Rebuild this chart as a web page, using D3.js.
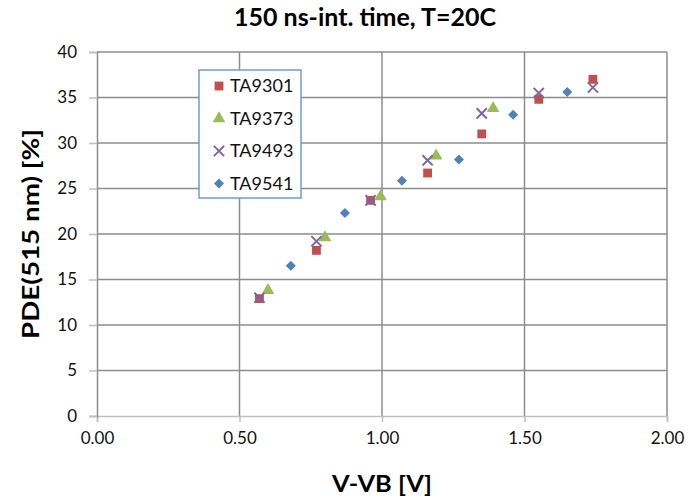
<!DOCTYPE html>
<html>
<head>
<meta charset="utf-8">
<script src="https://cdn.jsdelivr.net/npm/d3@7"></script>
<style>
  body { margin: 0; background: #fff; }
  text { font-family: Lato, "Open Sans", sans-serif; }
</style>
</head>
<body>
<svg id="drawing_region"></svg>
<script>
// data
const seriesNames = ['TA9301', 'TA9373', 'TA9493', 'TA9541'];
const xTA9301 = [0.57, 0.77, 0.96, 1.16, 1.35, 1.55, 1.74];
const yTA9301 = [12.9, 18.2, 23.7, 26.7, 31.0, 34.8, 37.0];
const xTA9373 = [0.60, 0.80, 0.995, 1.19, 1.39];
const yTA9373 = [13.8, 19.6, 24.1, 28.6, 33.8];
const xTA9493 = [0.57, 0.77, 0.96, 1.16, 1.35, 1.55, 1.74];
const yTA9493 = [13.0, 19.2, 23.7, 28.1, 33.25, 35.5, 36.1];
const xTA9541 = [0.68, 0.87, 1.07, 1.27, 1.46, 1.65];
const yTA9541 = [16.5, 22.3, 25.85, 28.2, 33.1, 35.6];
const xTicks = [0, 0.5, 1.0, 1.5, 2.0];
const yTicks = [0, 5, 10, 15, 20, 25, 30, 35, 40];

const config = {
    width: 694,
    height: 501,
    margin: { top: 52, right: 27, bottom: 85, left: 97 }
};

const series = [
    { name: seriesNames[0], xs: xTA9301, ys: yTA9301, color: '#c0504d', shape: 'square' },
    { name: seriesNames[1], xs: xTA9373, ys: yTA9373, color: '#9bbb59', shape: 'triangle' },
    { name: seriesNames[2], xs: xTA9493, ys: yTA9493, color: '#8064a2', shape: 'cross' },
    { name: seriesNames[3], xs: xTA9541, ys: yTA9541, color: '#4f81bd', shape: 'diamond' }
];

const svg = d3.select('#drawing_region')
    .attr('width', config.width)
    .attr('height', config.height);

const iw = config.width - config.margin.left - config.margin.right;
const ih = config.height - config.margin.top - config.margin.bottom;

const chart = svg.append('g')
    .attr('transform', `translate(${config.margin.left}, ${config.margin.top})`);

const xScale = d3.scaleLinear().domain([0, 2]).range([0, iw]);
const yScale = d3.scaleLinear().domain([0, 40]).range([ih, 0]);

// gridlines
chart.append('g')
    .selectAll('line.hgrid')
    .data(yTicks.filter(d => d > 0))
    .enter()
    .append('line')
    .attr('x1', 0).attr('x2', iw)
    .attr('y1', d => yScale(d)).attr('y2', d => yScale(d))
    .attr('stroke', '#8c8c8c')
    .attr('stroke-width', 1.5);

chart.append('g')
    .selectAll('line.vgrid')
    .data(xTicks.filter(d => d > 0))
    .enter()
    .append('line')
    .attr('x1', d => xScale(d)).attr('x2', d => xScale(d))
    .attr('y1', 0).attr('y2', ih)
    .attr('stroke', '#8c8c8c')
    .attr('stroke-width', 1.5);

// x axis
const xAxis = chart.append('g')
    .attr('transform', `translate(0, ${ih})`)
    .call(d3.axisBottom(xScale).tickValues(xTicks).tickFormat(d3.format('.2f')).tickSize(6).tickPadding(10));
xAxis.select('.domain').attr('stroke', '#bfbfbf').attr('stroke-width', 1.5);
xAxis.selectAll('.tick line').attr('stroke', '#bfbfbf').attr('stroke-width', 1.5);
xAxis.selectAll('text').attr('fill', '#111').style('font-size', '17px');

// y axis
const yAxis = chart.append('g')
    .call(d3.axisLeft(yScale).tickValues(yTicks).tickSize(8).tickPadding(12));
yAxis.select('.domain').attr('stroke', '#8c8c8c').attr('stroke-width', 1.5);
yAxis.selectAll('.tick line').attr('stroke', '#bfbfbf').attr('stroke-width', 1.5);
yAxis.selectAll('text').attr('fill', '#111').style('font-size', '17px');

// markers
const symbolFor = {
    square: d3.symbol().type(d3.symbolSquare).size(78),
    triangle: d3.symbol().type(d3.symbolTriangle).size(70),
    cross: d3.symbol().type(d3.symbolX).size(70),
    diamond: () => 'M0,-5L5,0L0,5L-5,0Z'
};

function drawMarker(sel, s) {
    const p = sel.append('path').attr('d', symbolFor[s.shape]());
    if (s.shape === 'cross') {
        p.attr('fill', 'none').attr('stroke', s.color).attr('stroke-width', 2);
    } else {
        p.attr('fill', s.color);
    }
}

series.forEach(s => {
    const pts = s.xs.map((x, i) => ({ x: x, y: s.ys[i] }));
    chart.append('g')
        .selectAll('g')
        .data(pts)
        .enter()
        .append('g')
        .attr('transform', d => `translate(${xScale(d.x)}, ${yScale(d.y)})`)
        .each(function () { drawMarker(d3.select(this), s); });
});

// legend
const legend = svg.append('g').attr('transform', 'translate(199, 70)');
legend.append('rect')
    .attr('width', 102).attr('height', 128)
    .attr('fill', '#fff')
    .attr('stroke', '#6f9bd1')
    .attr('stroke-width', 1.5);
series.forEach((s, i) => {
    const row = legend.append('g').attr('transform', `translate(20, ${16 + i * 32.5})`);
    drawMarker(row, s);
    row.append('text')
        .attr('x', 11).attr('y', 0)
        .attr('dy', '0.35em')
        .style('font-size', '18px')
        .attr('fill', '#111')
        .text(s.name);
});

// titles
svg.append('text')
    .attr('x', 365).attr('y', 26)
    .attr('text-anchor', 'middle')
    .attr('textLength', 262).attr('lengthAdjust', 'spacingAndGlyphs')
    .style('font-size', '25px').style('font-weight', 'bold')
    .text('150 ns-int. time, T=20C');

svg.append('text')
    .attr('x', config.margin.left + iw / 2).attr('y', 492)
    .attr('text-anchor', 'middle')
    .attr('textLength', 100).attr('lengthAdjust', 'spacingAndGlyphs')
    .style('font-size', '22px').style('font-weight', 'bold')
    .text('V-VB [V]');

svg.append('text')
    .attr('transform', `translate(39, ${config.margin.top + ih / 2}) rotate(-90)`)
    .attr('text-anchor', 'middle')
    .attr('textLength', 210).attr('lengthAdjust', 'spacingAndGlyphs')
    .style('font-size', '22px').style('font-weight', 'bold')
    .text('PDE(515 nm) [%]');
</script>
</body>
</html>
